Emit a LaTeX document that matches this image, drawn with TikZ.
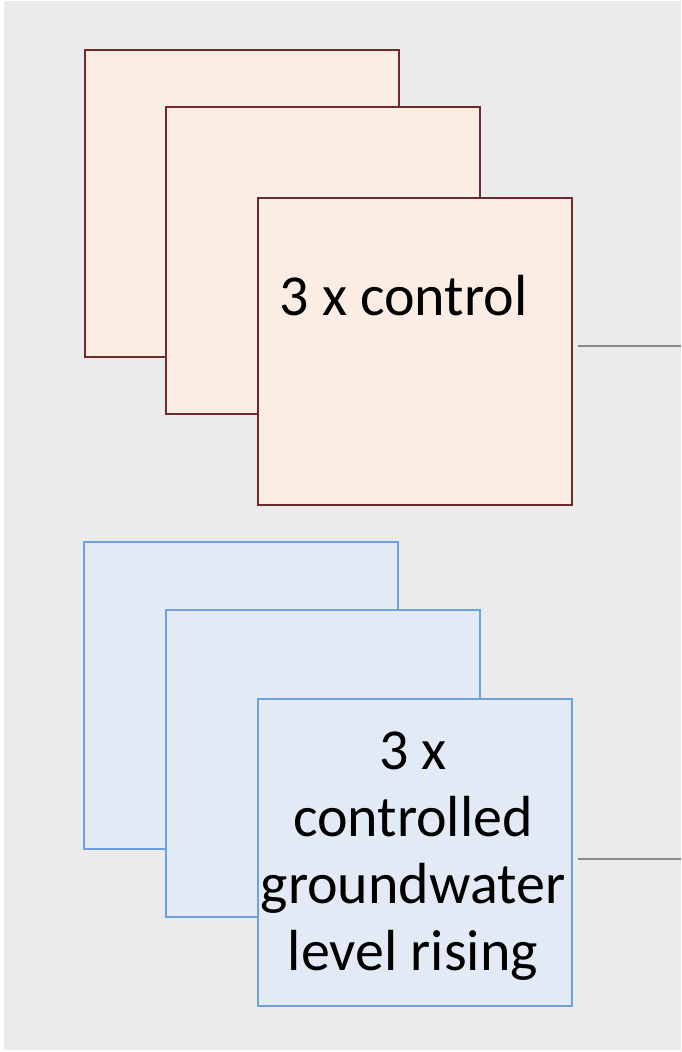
\documentclass[tikz,border=0pt]{standalone}
\usepackage{fontspec}
\setmainfont{Carlito}
\usepackage{tikz}
\usetikzlibrary{positioning}

\begin{document}
\begin{tikzpicture}[x=1pt, y=-1pt,
    sheet/.style={draw, line width=2pt, minimum width=314pt, minimum height=307pt, inner sep=0pt},
    redsheet/.style={sheet, draw=sheetred, fill=fillred},
    bluesheet/.style={sheet, draw=sheetblue, fill=fillblue},
    caption/.style={font=\fontsize{58}{67}\selectfont, align=center, inner sep=0pt},
    link/.style={draw=linkgray, line width=2.2pt, shorten <=5pt}]

            \definecolor{sheetred}{HTML}{6E2B2B}
            \definecolor{fillred}{HTML}{FBEDE4}
            \definecolor{sheetblue}{HTML}{70A0DC}
            \definecolor{fillblue}{HTML}{E2EAF6}
            \definecolor{linkgray}{HTML}{8A8A8A}

            \useasboundingbox (0, 0) rectangle (681, 1052);
            \fill[white] (0, 0) rectangle (681, 1052);
            \fill[black!8] (4, 1) rectangle (681, 1050);

            % control
            \node[redsheet] (red1) at (242, 203.5) {};
            \node[redsheet] (red2) at (323, 260.5) {};
            \node[redsheet] (red3) at (414.5, 351.5) {};
            \node[caption, anchor=base] (redtxt) at (403.5, 315) {3 x control};

            % groundwater level rising
            \node[bluesheet] (blue1) at (241, 695.5) {};
            \node[bluesheet] (blue2) at (323, 763.5) {};
            \node[bluesheet] (blue3) at (414.5, 852.5) {};
            \node[caption, anchor=base] (bluetxt) at (413, 970)
                {3 x\\controlled\\groundwater\\level rising};

            \coordinate (redend) at (681, 346);
            \coordinate (blueend) at (681, 859);
            \draw[link] (red3.east |- redend) -- (redend);
            \draw[link] (blue3.east |- blueend) -- (blueend);
        \end{tikzpicture}
\end{document}
